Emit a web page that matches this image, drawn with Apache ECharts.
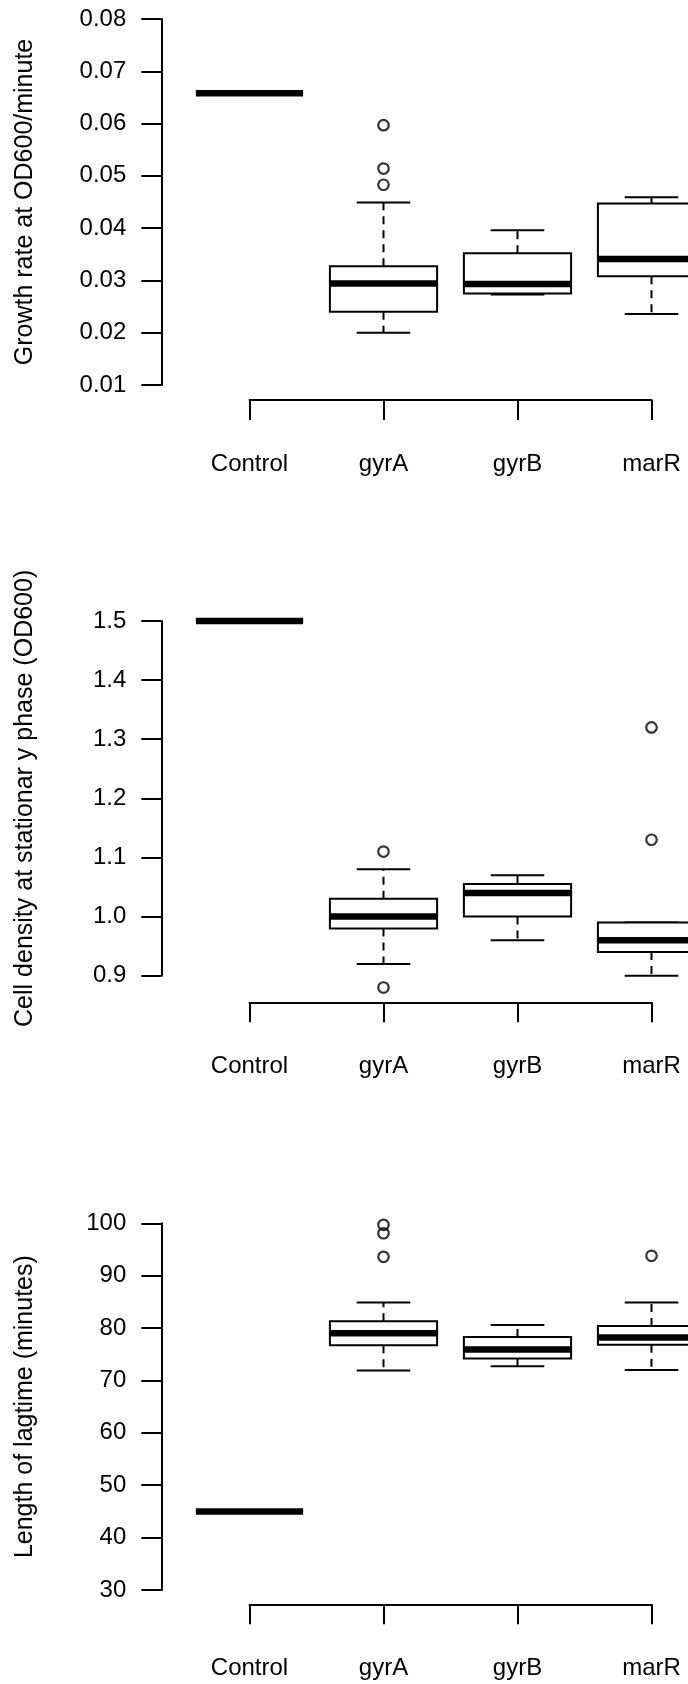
<!DOCTYPE html>
<html>
<head>
<meta charset="utf-8">
<script src="https://cdn.jsdelivr.net/npm/echarts@6/dist/echarts.min.js"></script>
<style>
  html, body { margin: 0; padding: 0; background: #fff; }
  #chart { width: 688px; height: 1684px; }
</style>
</head>
<body>
<div id="chart"></div>
<script>
const categories = ['Control', 'gyrA', 'gyrB', 'marR'];

// each box: [min, Q1, median, Q3, max]
const growthBoxes = [
  [0.0658, 0.0658, 0.0658, 0.0658, 0.0658],
  [0.0200, 0.0240, 0.0294, 0.0327, 0.0449],
  [0.0273, 0.0275, 0.0293, 0.0352, 0.0396],
  [0.0236, 0.0308, 0.0341, 0.0447, 0.0459]
];
const growthOutliers = [[1, 0.0597], [1, 0.0514], [1, 0.0483]];
const growthTicks = [0.01, 0.02, 0.03, 0.04, 0.05, 0.06, 0.07, 0.08];

const densityBoxes = [
  [1.50, 1.50, 1.50, 1.50, 1.50],
  [0.92, 0.98, 1.00, 1.03, 1.08],
  [0.96, 1.00, 1.04, 1.055, 1.07],
  [0.90, 0.94, 0.96, 0.99, 0.99]
];
const densityOutliers = [[1, 1.11], [1, 0.88], [3, 1.32], [3, 1.13]];
const densityTicks = [0.9, 1.0, 1.1, 1.2, 1.3, 1.4, 1.5];

const lagBoxes = [
  [45, 45, 45, 45, 45],
  [71.9, 76.7, 79.0, 81.3, 84.9],
  [72.7, 74.2, 75.9, 78.3, 80.6],
  [72.0, 76.8, 78.2, 80.4, 84.9]
];
const lagOutliers = [[1, 99.7], [1, 98.1], [1, 93.6], [3, 93.8]];
const lagTicks = [30, 40, 50, 60, 70, 80, 90, 100];

const titles = [
  'Growth rate at OD600/minute',
  'Cell density at stationar y phase (OD600)',
  'Length of lagtime (minutes)'
];

const FONT = 'Liberation Sans, Arial, Helvetica, sans-serif';
const INK = '#000';

// pixel layout of the three stacked panels
const panels = [
  { top: 19, height: 366, axisGap: 15, boxes: growthBoxes, outliers: growthOutliers, ticks: growthTicks, digits: 2 },
  { top: 621, height: 354.7, axisGap: 26.6, boxes: densityBoxes, outliers: densityOutliers, ticks: densityTicks, digits: 1 },
  { top: 1223.3, height: 366.7, axisGap: 14.3, boxes: lagBoxes, outliers: lagOutliers, ticks: lagTicks, digits: 0 }
];

// R-style box: dashed whiskers, half-width staples, thick median
function renderBox(params, api) {
  const i = api.value(0);
  const lo = api.coord([i, api.value(1)]);
  const q1 = api.coord([i, api.value(2)]);
  const med = api.coord([i, api.value(3)]);
  const q3 = api.coord([i, api.value(4)]);
  const hi = api.coord([i, api.value(5)]);
  const band = api.size([1, 0])[0];
  const half = band * 0.4;
  const cap = band * 0.2;
  const x = med[0];
  const thin = { stroke: INK, lineWidth: 2 };
  const dashed = { stroke: INK, lineWidth: 2, lineDash: [8, 6] };
  return {
    type: 'group',
    children: [
      { type: 'line', shape: { x1: x, y1: q3[1], x2: x, y2: hi[1] }, style: dashed },
      { type: 'line', shape: { x1: x, y1: q1[1], x2: x, y2: lo[1] }, style: dashed },
      { type: 'line', shape: { x1: x - cap, y1: hi[1], x2: x + cap, y2: hi[1] }, style: thin },
      { type: 'line', shape: { x1: x - cap, y1: lo[1], x2: x + cap, y2: lo[1] }, style: thin },
      { type: 'rect', shape: { x: x - half, y: q3[1], width: half * 2, height: q1[1] - q3[1] },
        style: { fill: '#fff', stroke: INK, lineWidth: 2 } },
      { type: 'line', shape: { x1: x - half, y1: med[1], x2: x + half, y2: med[1] },
        style: { stroke: INK, lineWidth: 6.5 } }
    ]
  };
}

const axisLineStyle = { color: INK, width: 2 };

const option = {
  animation: false,
  backgroundColor: '#fff',
  grid: panels.map(p => ({ left: 249.5, width: 402, top: p.top, height: p.height })),
  xAxis: panels.map((p, k) => ({
    gridIndex: k,
    type: 'category',
    data: categories,
    boundaryGap: false,
    offset: p.axisGap,
    axisLine: { show: true, lineStyle: axisLineStyle },
    axisTick: { show: true, interval: 0, length: 20, lineStyle: axisLineStyle },
    axisLabel: { interval: 0, color: INK, fontSize: 24, fontFamily: FONT, margin: 52 },
    splitLine: { show: false }
  })),
  yAxis: panels.map((p, k) => ({
    gridIndex: k,
    type: 'value',
    min: p.ticks[0],
    max: p.ticks[p.ticks.length - 1],
    interval: p.ticks[1] - p.ticks[0],
    offset: 88.2,
    name: titles[k],
    nameLocation: 'middle',
    nameRotate: 90,
    nameGap: 124,
    nameTextStyle: { color: INK, fontSize: 25, fontFamily: FONT },
    axisLine: { show: true, lineStyle: axisLineStyle },
    axisTick: { show: true, length: 20, lineStyle: axisLineStyle },
    axisLabel: {
      color: INK, fontSize: 24, fontFamily: FONT, margin: 35,
      formatter: v => Number(v).toFixed(p.digits)
    },
    splitLine: { show: false }
  })),
  series: panels.flatMap((p, k) => [
    {
      type: 'custom',
      xAxisIndex: k,
      yAxisIndex: k,
      renderItem: renderBox,
      encode: { x: 0, y: [1, 2, 3, 4, 5] },
      data: p.boxes.map((b, i) => [i].concat(b)),
      silent: true
    },
    {
      type: 'scatter',
      xAxisIndex: k,
      yAxisIndex: k,
      clip: false,
      symbol: 'circle',
      symbolSize: 10.5,
      itemStyle: { color: 'rgba(0,0,0,0)', borderColor: INK, borderWidth: 2.2 },
      data: p.outliers,
      silent: true,
      z: 3
    }
  ])
};

const chart = echarts.init(document.getElementById('chart'), null, { renderer: 'canvas' });
chart.setOption(option);
</script>
</body>
</html>
